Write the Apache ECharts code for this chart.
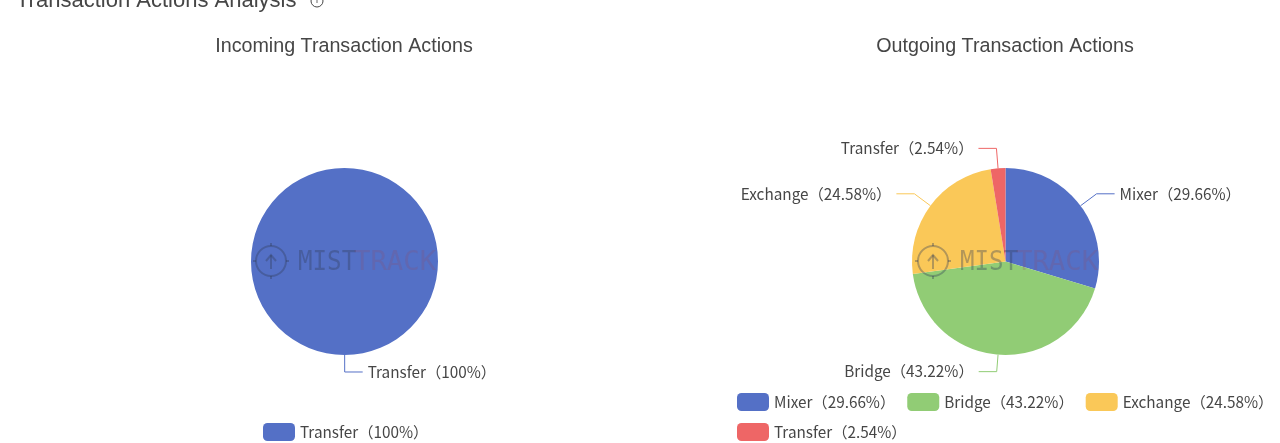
<!DOCTYPE html>
<html>
<head>
<meta charset="utf-8">
<style>
  html, body { margin: 0; padding: 0; background: #fff; }
  #chart { width: 1280px; height: 443px; }
</style>
<script src="https://cdn.jsdelivr.net/npm/echarts@6/dist/echarts.min.js"></script>
</head>
<body>
<div id="chart"></div>
<script>
const pageTitle = 'Transaction Actions Analysis';
const incomingTitle = 'Incoming Transaction Actions';
const outgoingTitle = 'Outgoing Transaction Actions';

const incomingNames = ['Transfer'];
const incomingValues = [100];
const outgoingNames = ['Mixer', 'Bridge', 'Exchange', 'Transfer'];
const outgoingValues = [29.66, 43.22, 24.58, 2.54];

const colors = ['#5470c6', '#91cc75', '#fac858', '#ee6666'];
const textColor = '#464646';
const labelFont = '"Noto Sans CJK SC", "Noto Sans", sans-serif';
const labelSize = 15.3;

const toItems = (names, values, palette) => names.map((name, i) => ({
  name: name + '（' + values[i] + '%）',
  value: values[i],
  itemStyle: { color: palette[i] }
}));

const incomingData = toItems(incomingNames, incomingValues, ['#5470c6']);
const outgoingData = toItems(outgoingNames, outgoingValues, colors);

// bottom labels sit a little closer to the pie
incomingData[0].labelLine = { length: 17 };
outgoingData[1].labelLine = { length: 17 };

const pieSeries = (center, data, startAngle) => ({
  type: 'pie',
  radius: 93.5,
  center: center,
  startAngle: startAngle,
  data: data,
  silent: true,
  animation: false,
  label: { color: textColor, fontSize: labelSize, fontFamily: labelFont, formatter: '{b}' },
  labelLine: { length: 20, length2: 18, lineStyle: { width: 1 } }
});

const legendOf = (data, left, top, width) => ({
  data: data.map(d => d.name),
  left: left,
  top: top,
  width: width,
  itemWidth: 32,
  itemHeight: 18,
  itemGap: 12,
  selectedMode: false,
  textStyle: { color: textColor, fontSize: labelSize, fontFamily: labelFont }
});

// watermark sits on top of both pies
const markDark = 'rgba(50,60,90,0.36)';
const markRed = 'rgba(150,70,90,0.2)';
const markFont = '26px "DejaVu Sans Mono", monospace';
const markLine = (points) => ({
  type: 'polyline',
  z: 100,
  shape: { points: points },
  style: { stroke: markDark, lineWidth: 2, fill: 'none' }
});

const watermark = (x, y) => ({
  type: 'group',
  x: x,
  y: y,
  silent: true,
  children: [
    { type: 'circle', z: 100, shape: { cx: 0, cy: 0, r: 15 }, style: { fill: 'none', stroke: markDark, lineWidth: 2 } },
    markLine([[0, 8], [0, -6]]),
    markLine([[-5, 0], [0, -6], [5, 0]]),
    markLine([[0, -18], [0, -15]]),
    markLine([[0, 15], [0, 18]]),
    markLine([[-18, 0], [-15, 0]]),
    markLine([[15, 0], [18, 0]]),
    { type: 'text', z: 100, x: 27, y: 2, scaleX: 0.93, style: { text: 'MIST', fill: markDark, font: markFont, textVerticalAlign: 'middle' } },
    { type: 'text', z: 100, x: 83, y: 2, scaleX: 1.05, style: { text: 'TRACK', fill: markRed, font: markFont, textVerticalAlign: 'middle' } }
  ]
});

const chart = echarts.init(document.getElementById('chart'), null, { renderer: 'canvas' });

chart.setOption({
  animation: false,
  title: [
    { text: pageTitle, left: 11, top: -15, textStyle: { color: textColor, fontSize: 22, fontWeight: 'normal', fontFamily: 'Liberation Sans' } },
    { text: incomingTitle, left: 339, top: 32, textAlign: 'center', textStyle: { color: textColor, fontSize: 19.7, fontWeight: 'normal', fontFamily: 'Liberation Sans' } },
    { text: outgoingTitle, left: 1000, top: 32, textAlign: 'center', textStyle: { color: textColor, fontSize: 19.7, fontWeight: 'normal', fontFamily: 'Liberation Sans' } }
  ],
  legend: [
    legendOf(incomingData, 258, 418, 300),
    legendOf(outgoingData, 732, 388, 545)
  ],
  series: [
    pieSeries([344.5, 261.5], incomingData, 90.1),
    pieSeries([1005.5, 261.5], outgoingData, 90)
  ],
  graphic: [
    { type: 'circle', shape: { cx: 317, cy: 1, r: 6 }, style: { fill: 'none', stroke: textColor, lineWidth: 1 } },
    { type: 'text', x: 317, y: 1, style: { text: 'i', fill: textColor, font: '9px "Liberation Sans"', textAlign: 'center', textVerticalAlign: 'middle' } },
    watermark(271, 261),
    watermark(933, 261)
  ]
});
</script>
</body>
</html>
